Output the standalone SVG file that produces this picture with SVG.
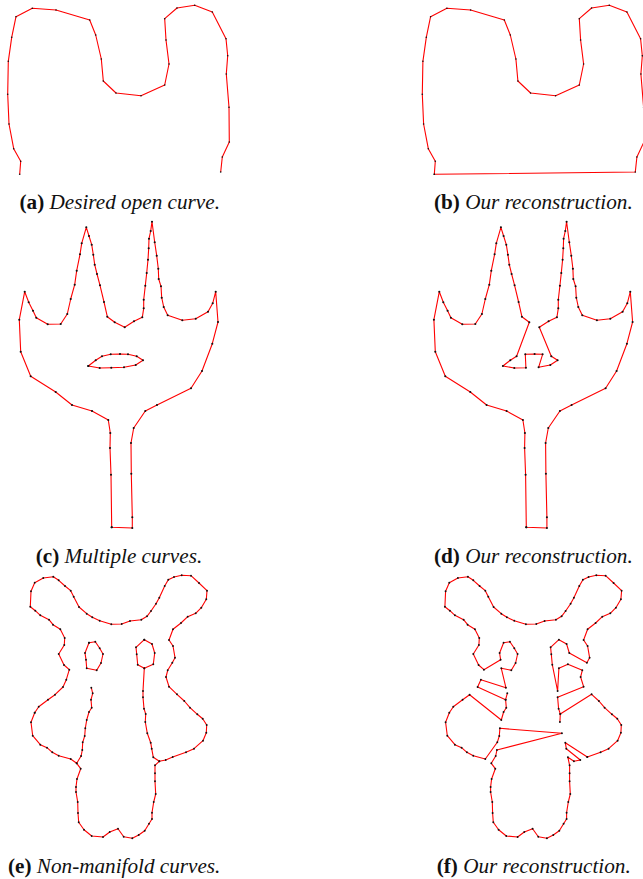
<svg xmlns="http://www.w3.org/2000/svg" width="643" height="879" viewBox="0 0 643 879">
<style>
.l{fill:none;stroke:#f00;stroke-width:1.1;stroke-linejoin:round}
.s{marker-start:url(#ds);marker-mid:url(#ds);marker-end:url(#ds)}
.m{marker-start:url(#dm);marker-mid:url(#dm);marker-end:url(#dm)}
.k{marker-start:url(#dk);marker-mid:url(#dk);marker-end:url(#dk)}
text{font-family:"Liberation Serif","Times New Roman",serif;font-size:21.2px;font-style:italic;fill:#111}
tspan{font-weight:bold;font-style:normal}
</style>
<defs>
<marker id="ds" markerUnits="userSpaceOnUse" markerWidth="4" markerHeight="4" refX="2" refY="2"><circle cx="2" cy="2" r=".8" fill="#111"/></marker>
<marker id="dm" markerUnits="userSpaceOnUse" markerWidth="4" markerHeight="4" refX="2" refY="2"><circle cx="2" cy="2" r="1.05" fill="#111"/></marker>
<marker id="dk" markerUnits="userSpaceOnUse" markerWidth="4" markerHeight="4" refX="2" refY="2"><circle cx="2" cy="2" r=".95" fill="#111"/></marker>
</defs>
<g id="panel-a">
<polyline class="l s" points="19.7,174.3 20.7,161.3 13.7,148.7 9,124 7.7,94.3 8.3,61.3 11.7,37.3 16,16.7 32.3,8.3 56,10 89.7,20 95.7,35 101.3,59 103.3,81 116,93 141,95.7 164.7,85 169,64 166,40 164.7,18.7 177,8 194.7,5.3 212.3,12 226,38.7 227.7,55.7 226.3,74 229,107.3 229.3,142 222.3,157 220.7,172"/>
<text x="19.5" y="209"><tspan>(a)</tspan> Desired open curve.</text>
</g>
<g id="panel-b">
<polygon class="l s" transform="translate(414.6 0)" points="19.7,174.3 20.7,161.3 13.7,148.7 9,124 7.7,94.3 8.3,61.3 11.7,37.3 16,16.7 32.3,8.3 56,10 89.7,20 95.7,35 101.3,59 103.3,81 116,93 141,95.7 164.7,85 169,64 166,40 164.7,18.7 177,8 194.7,5.3 212.3,12 226,38.7 227.7,55.7 226.3,74 229,107.3 229.3,142 222.3,157 220.7,172"/>
<text x="434" y="209"><tspan>(b)</tspan> Our reconstruction.</text>
</g>
<g id="panel-c">
<polygon class="l m" points="111.7,527.3 111,474.7 110,448 110.3,433 108.3,420 92,411 72,405 55.7,392 30.7,376.3 20.7,351.7 19.3,319.7 24.7,291.7 28.7,302.3 33,310.7 36.3,317.7 47.7,324.3 60.7,324 67.3,314 70.7,299 74.7,284.7 76.7,270.7 80,254.3 81.7,243.3 86.3,227.3 89,236 91.7,244.7 93.3,254.7 94.7,264.7 97,274 100,285.3 104,302 107.3,316.7 114.7,322.3 124.7,327.3 134,321.3 142.3,317.3 143.7,308.3 143.7,299.7 145.3,285.7 146.7,273 148,259.7 148.7,248.3 149,238.7 150.7,231 152,221.7 154.7,242.3 156.7,255.7 158.3,268.7 158.7,279 161,286.3 161.7,297.7 163.7,307 167.7,315.3 182.3,320.3 195.7,318.7 208,311.7 212.7,303.3 215.7,291.7 218,322 212.3,343.7 202,371 191,388.3 157,405 145.3,411 133.7,428 131,443 131.3,473.7 132.3,517.3 132.3,528"/>
<polygon class="l m" points="88.3,366 95.7,360.3 102,356.3 110.7,354.3 120,354 128,354.3 136.7,356.3 143,360.3 135.7,365 124,367.3 111.3,367.7 99.7,368"/>
<text x="35.7" y="563"><tspan>(c)</tspan> Multiple curves.</text>
</g>
<g id="panel-d">
<polygon class="l m" transform="translate(414.6 0)" points="111.7,527.3 111,474.7 110,448 110.3,433 108.3,420 92,411 72,405 55.7,392 30.7,376.3 20.7,351.7 19.3,319.7 24.7,291.7 28.7,302.3 33,310.7 36.3,317.7 47.7,324.3 60.7,324 67.3,314 70.7,299 74.7,284.7 76.7,270.7 80,254.3 81.7,243.3 86.3,227.3 89,236 91.7,244.7 93.3,254.7 94.7,264.7 97,274 100,285.3 104,302 107.3,316.7 114.7,322.3 102,356.3 95.7,360.3 88.3,366 99.7,368 111.3,367.7 110.7,354.3 120,354 128,354.3 124,367.3 135.7,365 143,360.3 136.7,356.3 124.7,327.3 134,321.3 142.3,317.3 143.7,308.3 143.7,299.7 145.3,285.7 146.7,273 148,259.7 148.7,248.3 149,238.7 150.7,231 152,221.7 154.7,242.3 156.7,255.7 158.3,268.7 158.7,279 161,286.3 161.7,297.7 163.7,307 167.7,315.3 182.3,320.3 195.7,318.7 208,311.7 212.7,303.3 215.7,291.7 218,322 212.3,343.7 202,371 191,388.3 157,405 145.3,411 133.7,428 131,443 131.3,473.7 132.3,517.3 132.3,528"/>
<text x="434" y="563"><tspan>(d)</tspan> Our reconstruction.</text>
</g>
<g id="panel-e">
<polygon class="l k" points="34.7,712.7 38.7,706.7 48,699.7 55,694.7 63,687 66.3,679.7 69.3,669.7 64,665 58.7,654 64.3,645 64.7,638 60.3,629.3 53,624.7 49,619.7 40.3,615.3 35.3,610.7 30.3,606.7 31,591.3 34.7,582.7 43.3,578 53.3,576.7 58.7,580.3 65,586 70.7,590.7 73.7,596.7 79,607 86.7,613.7 92.3,617.3 99.7,620.7 111.3,624.3 121.7,624 130,621 141.3,619.7 147,616.3 151,611 156,603.7 159.3,597.7 164.7,586 168.3,579.7 174,577 181.7,575.3 191,575.7 199,583 207,590.7 206.3,599.3 201.3,607.7 195.7,613.3 187.7,616.7 181,623 173,629.3 169,640 173,646 175,657.7 172.3,662.7 167.7,670.3 166,677 169,686.7 177,694.3 184.3,701 190,707.7 197.3,714.3 202.7,718.7 206.7,725 206.3,732.7 203,740.7 194,748.7 186,752.3 172.7,757 165.7,760 159.3,761.3 155,765.3 155,773.3 155,781.3 155.7,794 153.7,802 152,812.7 152,819 149,823.7 144.7,830.7 138.7,835 132.3,838.3 123.7,836.7 118,828.7 109.7,832 103,837 91.7,836 84,829.7 78.7,822.3 78,813 77.7,802 76,792 76,787 77,779 80.7,768.7 76.7,763.3 70.7,759 58.7,755.7 52.3,752.3 47,747.7 40.3,744.7 32.7,735.7 31,722.3"/>
<polyline class="l k" points="91.3,687.7 92.7,693.3 91,699.7 91.7,707.7 89,712 86.7,720 85.3,728.3 84.7,736 82.7,742.3 82.3,750 81.1,756 76.7,763.3"/>
<polyline class="l k" points="144.3,668.3 143,691 143,697.3 144,708.7 145.7,714 145.3,722 147.3,733.3 150.7,742.7 151.7,748.7 153.3,757.3 159.3,761.3"/>
<polygon class="l k" points="89,642.7 95.3,641.7 99.7,648.3 103,654 101,663 96.7,670.3 86.7,668.3 86,659.7 85,653"/>
<polygon class="l k" points="144.3,639.7 152,644 154.7,653 153.3,664.3 144.3,668.3 137.7,664.7 136.7,654.3 136,647.3"/>
<text x="8" y="873"><tspan>(e)</tspan> Non-manifold curves.</text>
</g>
<g id="panel-f">
<g transform="translate(414.6 0)">
<polygon class="l k" points="172.7,757 186,752.3 194,748.7 203,740.7 206.3,732.7 206.7,725 202.7,718.7 197.3,714.3 190,707.7 184.3,701 177,694.3 145.7,714 144,708.7 143,697.3 169,686.7 166,677 167.7,670.3 153.3,664.3 144.3,668.3 143,691 137.7,664.7 136.7,654.3 136,647.3 144.3,639.7 152,644 154.7,653 172.3,662.7 175,657.7 173,646 169,640 173,629.3 181,623 187.7,616.7 195.7,613.3 201.3,607.7 206.3,599.3 207,590.7 199,583 191,575.7 181.7,575.3 174,577 168.3,579.7 164.7,586 159.3,597.7 156,603.7 151,611 147,616.3 141.3,619.7 130,621 121.7,624 111.3,624.3 99.7,620.7 92.3,617.3 86.7,613.7 79,607 73.7,596.7 70.7,590.7 65,586 58.7,580.3 53.3,576.7 43.3,578 34.7,582.7 31,591.3 30.3,606.7 35.3,610.7 40.3,615.3 49,619.7 53,624.7 60.3,629.3 64.7,638 64.3,645 58.7,654 64,665 69.3,669.7 86,659.7 85,653 89,642.7 95.3,641.7 99.7,648.3 103,654 101,663 96.7,670.3 86.7,668.3 91.3,687.7 66.3,679.7 63,687 91,699.7 91.7,707.7 89,712 86.7,720 55,694.7 48,699.7 38.7,706.7 34.7,712.7 31,722.3 32.7,735.7 40.3,744.7 47,747.7 52.3,752.3 58.7,755.7 70.7,759 82.7,742.3 84.7,736 85.3,728.3 147.3,733.3 82.3,750 81.1,756 76.7,763.3 80.7,768.7 77,779 76,787 76,792 77.7,802 78,813 78.7,822.3 84,829.7 91.7,836 103,837 109.7,832 118,828.7 123.7,836.7 132.3,838.3 138.7,835 144.7,830.7 149,823.7 152,819 152,812.7 153.7,802 155.7,794 155,781.3 155,773.3 155,765.3 153.3,757.3 159.3,761.3 165.7,760 151.7,748.7 150.7,742.7"/>
<polyline class="l k" points="91,699.7 92.7,693.3"/>
<polyline class="l k" points="145.7,714 145.3,722"/>
</g>
<text x="436.7" y="873"><tspan>(f)</tspan> Our reconstruction.</text>
</g>
</svg>
